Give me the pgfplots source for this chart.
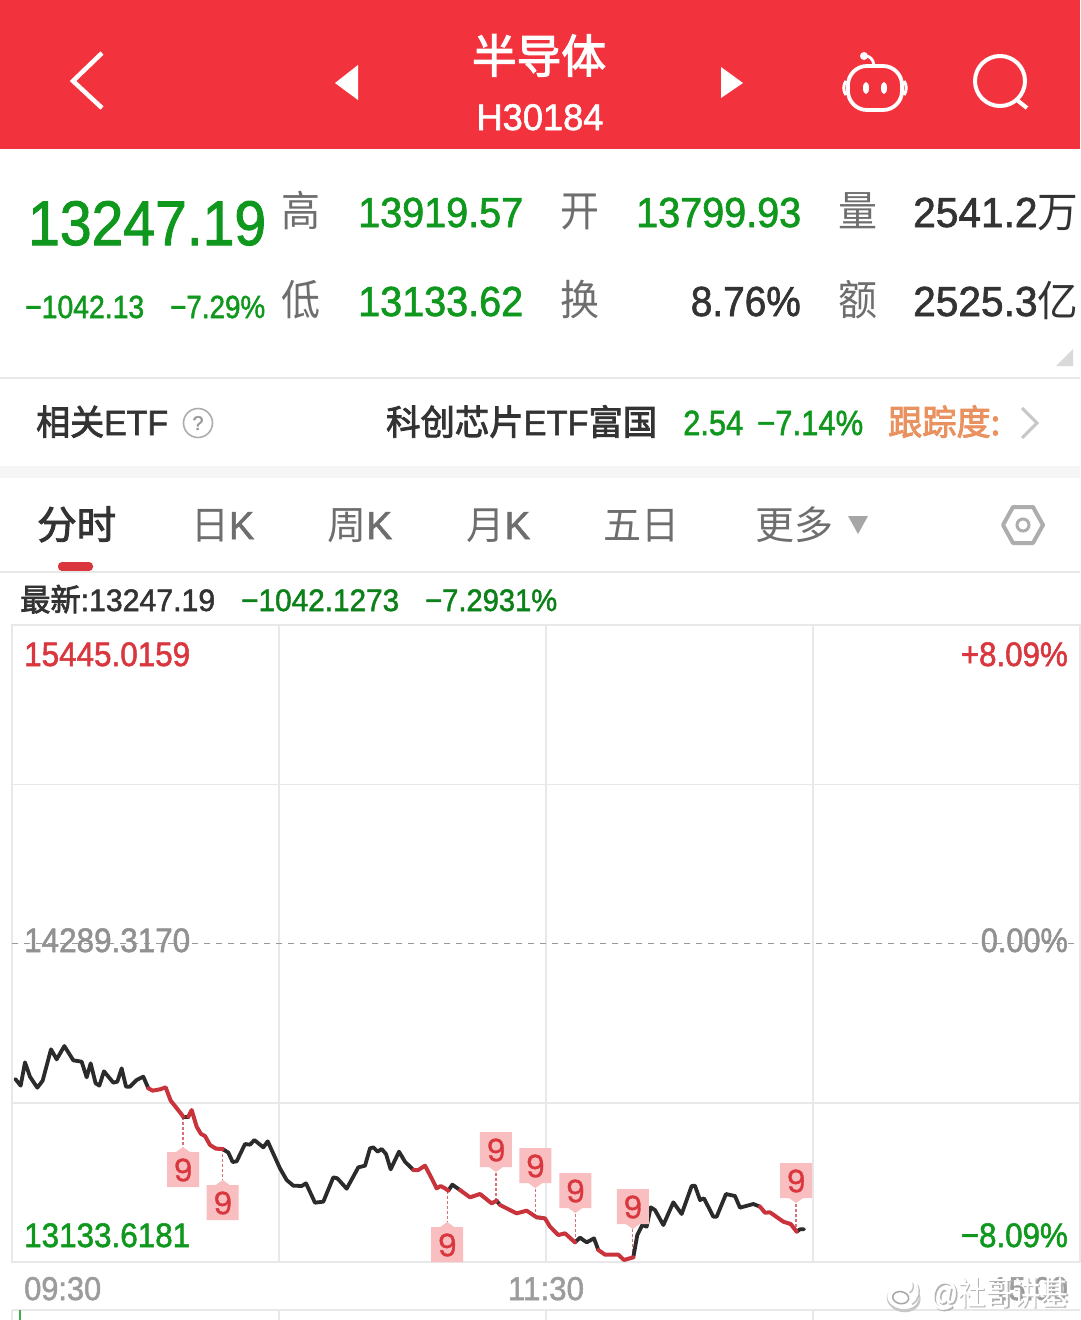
\documentclass[border=0pt]{standalone}
\usepackage{fontspec}
\usepackage{graphicx}
\usepackage{pgfplots}
\pgfplotsset{compat=1.18}
\setmainfont[FakeBold=1.6]{Liberation Sans}
\newfontfamily\cjk{Noto Sans CJK SC}
\newfontfamily\cjkm[FakeBold=2.5]{Noto Sans CJK SC}
\newfontfamily\tagfont[FakeBold=1]{Poppins}
\definecolor{hdr}{HTML}{F2333D}
\definecolor{grn}{HTML}{0F981D}
\definecolor{rd}{HTML}{D9363E}
\definecolor{dk}{HTML}{333333}
\definecolor{gy}{HTML}{6E6E6E}
\definecolor{lg}{HTML}{E8E8E8}
\definecolor{tm}{HTML}{9C9C9C}
\definecolor{org}{HTML}{EA9160}
\definecolor{tagp}{HTML}{F8BEC0}
\definecolor{lineb}{HTML}{2B2B2B}
\definecolor{liner}{HTML}{C9333B}
\newsavebox\mybox
% anchor, x, y, size, width, colour, text
\newcommand\FW[7]{%
 \node[anchor=#1,inner sep=0pt,text=#6] at (#2,#3) {%
   \sbox\mybox{\fontsize{#4}{#4}\selectfont #7}%
   \pgfmathsetmacro\sx{#5/\the\wd\mybox}%
   \scalebox{\sx}[1]{\usebox\mybox}};%
}
\newcommand\C[1]{{\cjk #1}}
\newcommand\M[1]{{\cjkm #1}}
\pgfdeclareplotmark{tagdown}{%
 \pgfsetfillcolor{tagp}%
 \pgfsetcornersarced{\pgfpoint{6pt}{6pt}}%
 \pgfpathmoveto{\pgfpoint{0pt}{0pt}}%
 \pgfpathlineto{\pgfpoint{7pt}{-5pt}}%
 \pgfpathlineto{\pgfpoint{16pt}{-5pt}}%
 \pgfpathlineto{\pgfpoint{16pt}{-40pt}}%
 \pgfpathlineto{\pgfpoint{-16pt}{-40pt}}%
 \pgfpathlineto{\pgfpoint{-16pt}{-5pt}}%
 \pgfpathlineto{\pgfpoint{-7pt}{-5pt}}%
 \pgfpathclose
 \pgfusepathqfill
 \pgftext[at=\pgfpoint{0pt}{-23pt}]{\fontsize{31}{31}\tagfont\color{rd}9}%
}
\pgfdeclareplotmark{tagup}{%
 \pgfsetfillcolor{tagp}%
 \pgfsetcornersarced{\pgfpoint{6pt}{6pt}}%
 \pgfpathmoveto{\pgfpoint{0pt}{0pt}}%
 \pgfpathlineto{\pgfpoint{7pt}{5pt}}%
 \pgfpathlineto{\pgfpoint{16pt}{5pt}}%
 \pgfpathlineto{\pgfpoint{16pt}{40pt}}%
 \pgfpathlineto{\pgfpoint{-16pt}{40pt}}%
 \pgfpathlineto{\pgfpoint{-16pt}{5pt}}%
 \pgfpathlineto{\pgfpoint{-7pt}{5pt}}%
 \pgfpathclose
 \pgfusepathqfill
 \pgftext[at=\pgfpoint{0pt}{22pt}]{\fontsize{31}{31}\tagfont\color{rd}9}%
}
\begin{document}
\begin{tikzpicture}
\useasboundingbox (0,0) rectangle (1080pt,-1320pt);
\fill[white] (0,0) rectangle (1080pt,-1320pt);
\begin{scope}[x=1pt,y=-1pt]
% header
\fill[hdr] (0,0) rectangle (1080,149);
\draw[white,line width=4.5pt,line join=miter] (102,53)--(73,81)--(102,108);
\fill[white] (358,65)--(335,83)--(358,100)--cycle;
\fill[white] (721,67)--(743,83)--(721,98)--cycle;
\FW{base}{539}{73}{46}{134}{white}{\M{半导体}}
\FW{base}{540}{130}{37}{127}{white}{H30184}
% robot
\draw[white,line width=3.8pt,rounded corners=19pt] (848,66) rectangle (902,110);
\draw[white,line width=3pt] (846,81) .. controls (843,85) and (843,91) .. (846,95);
\draw[white,line width=3pt] (904,81) .. controls (907,85) and (907,91) .. (904,95);
\draw[white,line width=2.8pt] (874,65) .. controls (873,59) and (870,56) .. (865,56);
\fill[white] (864,56) circle (4);
\fill[white] (866,88) ellipse [x radius=3,y radius=6];
\fill[white] (884,88) ellipse [x radius=3,y radius=6];
% search
\draw[white,line width=4pt] (1000,81) circle (25);
\draw[white,line width=4pt] (1017,100)--(1027,108);
% quote rows
\FW{base west}{28}{245}{63}{238}{grn}{13247.19}
\FW{base}{301}{226}{42}{39}{gy}{\C{高}}
\FW{base west}{358}{227}{42}{165}{grn}{13919.57}
\FW{base}{580}{226}{42}{39}{gy}{\C{开}}
\FW{base west}{636}{227}{42}{165}{grn}{13799.93}
\FW{base}{858}{226}{42}{39}{gy}{\C{量}}
\FW{base west}{913}{227}{42}{165}{dk}{2541.2\C{万}}
\FW{base west}{25}{318}{32}{119}{grn}{−1042.13}
\FW{base west}{170}{318}{32}{95}{grn}{−7.29\%}
\FW{base}{301}{315}{42}{39}{gy}{\C{低}}
\FW{base west}{358}{316}{42}{165}{grn}{13133.62}
\FW{base}{580}{315}{42}{39}{gy}{\C{换}}
\FW{base east}{801}{316}{42}{110}{dk}{8.76\%}
\FW{base}{858}{315}{42}{39}{gy}{\C{额}}
\FW{base west}{913}{316}{42}{165}{dk}{2525.3\C{亿}}
\fill[black!15] (1056,366)--(1073,366)--(1073,349)--cycle;
\draw[lg,line width=1.2pt] (0,378)--(1080,378);
% ETF row
\FW{base west}{36}{435}{35}{132}{dk}{\M{相关}ETF}
\draw[black!32,line width=1.6pt] (198,423) circle (14.5);
\node[text=black!40,inner sep=0pt] at (198,423) {\fontsize{20}{20}\selectfont ?};
\FW{base west}{386}{435}{35}{271}{dk}{\M{科创芯片}ETF\M{富国}}
\FW{base west}{683}{435}{35}{60}{grn}{2.54}
\FW{base west}{757}{435}{35}{106}{grn}{−7.14\%}
\FW{base west}{888}{435}{35}{112}{org}{\M{跟踪度:}}
\draw[black!22,line width=3pt] (1022,408)--(1037,423)--(1022,438);
\fill[black!4] (0,466) rectangle (1080,478);
% tabs
\FW{base west}{37}{539}{39}{79}{dk}{\M{分时}}
\FW{base west}{191}{539}{39}{63}{gy}{\C{日}K}
\FW{base west}{327}{539}{39}{65}{gy}{\C{周}K}
\FW{base west}{466}{539}{39}{64}{gy}{\C{月}K}
\FW{base west}{603}{539}{39}{76}{gy}{\C{五日}}
\FW{base west}{755}{539}{39}{78}{gy}{\C{更多}}
\fill[black!35] (848,516)--(868,516)--(858,534)--cycle;
\draw[black!32,line width=4pt,line join=round] (1003,525)--(1013,507)--(1033,507)--(1043,525)--(1033,543)--(1013,543)--cycle;
\draw[black!32,line width=3pt] (1023,525) circle (6);
\fill[rd,rounded corners=4pt] (58,562) rectangle (93,571);
\draw[lg,line width=1.2pt] (0,572)--(1080,572);
\FW{base west}{20}{611}{31}{195}{dk}{\M{最新}:13247.19}
\FW{base west}{241}{611}{31}{158}{grn!85!black}{−1042.1273}
\FW{base west}{425}{611}{31}{132}{grn!85!black}{−7.2931\%}
\end{scope}

\begin{axis}[
  at={(12pt,-1262pt)},anchor=south west,
  scale only axis,width=1068pt,height=637pt,
  xmin=0,xmax=240,ymin=13133.6181,ymax=15445.0159,
  xtick={60,120,180},ytick={13710.6,14867.2},
  xticklabels={},yticklabels={},
  scaled y ticks=false,scaled x ticks=false,
  tick style={draw=none},
  grid=major,grid style={lg,line width=1.2pt},
  axis line style={lg,line width=1.2pt},
  clip=false,
]
\addplot[black!40,dash pattern=on 6pt off 6pt,line width=1.5pt] coordinates {(0,14289.317)(240,14289.317)};
% stems
\addplot[liner!70,dash pattern=on 3pt off 2pt,line width=1.2pt] coordinates {(38.43,13659.8)(38.43,13550.9)};
\addplot[liner!70,dash pattern=on 3pt off 2pt,line width=1.2pt] coordinates {(47.35,13543.7)(47.35,13431.2)};
\addplot[liner!70,dash pattern=on 3pt off 2pt,line width=1.2pt] coordinates {(97.8,13392.5)(97.8,13278.8)};
\addplot[liner!70,dash pattern=on 3pt off 2pt,line width=1.2pt] coordinates {(108.76,13356)(108.76,13460.2)};
\addplot[liner!70,dash pattern=on 3pt off 2pt,line width=1.2pt] coordinates {(117.6,13295.7)(117.6,13402.1)};
\addplot[liner!70,dash pattern=on 3pt off 2pt,line width=1.2pt] coordinates {(126.6,13205)(126.6,13311.4)};
\addplot[liner!70,dash pattern=on 3pt off 2pt,line width=1.2pt] coordinates {(139.5,13150.6)(139.5,13253.4)};
\addplot[liner!70,dash pattern=on 3pt off 2pt,line width=1.2pt] coordinates {(176.2,13243.7)(176.2,13347.7)};
% tags
\addplot[only marks,mark=tagdown] coordinates {(38.43,13550.9)(47.35,13431.2)(97.8,13278.8)};
\addplot[only marks,mark=tagup] coordinates {(108.76,13460.2)(117.6,13402.1)(126.6,13311.4)(139.5,13253.4)(176.2,13347.7)};
% price line, black segments
\pgfplotsset{bl/.style={lineb,line width=3.8pt,line join=round,line cap=round},rl/.style={liner,line width=4pt,line join=round,line cap=round}}
\addplot[bl] coordinates {(0.75,13797.7)(1.95,13773.5)(2.92,13858.1)(4.04,13806.1)(5.69,13766.2)(6.89,13791.6)(8.76,13905.3)(10.04,13869.0)(11.76,13917.4)(13.78,13865.4)(15.65,13860.6)(16.78,13803.7)(17.68,13854.5)(18.80,13782.0)(19.63,13773.5)(20.67,13825.5)(22.77,13784.4)(23.67,13788.0)(24.64,13836.4)(25.62,13769.9)(26.52,13769.9)(28.02,13794.1)(29.51,13806.2)(30.64,13763.8)};
\addplot[bl] coordinates {(38.50,13661.0)(39.63,13661.0)};
\addplot[bl] coordinates {(47.34,13543.7)(48.62,13530.4)(49.59,13496.5)(50.49,13499.0)(52.36,13561.8)(53.49,13559.4)(54.46,13576.3)(56.48,13549.7)(57.46,13571.5)(60.22,13473.5)(61.72,13431.2)(63.22,13410.7)(65.09,13409.4)(66.07,13419.1)(68.09,13348.9)(69.96,13352.6)(72.21,13440.9)(73.11,13437.2)(75.21,13399.7)(77.83,13477.2)(79.33,13483.2)(80.45,13546.1)(81.20,13549.7)(82.17,13534.0)(83.07,13543.7)(84.05,13525.5)(85.09,13469.9)(86.97,13534.0)(88.31,13497.7)(90.19,13467.5)};
\addplot[bl] coordinates {(98.05,13392.5)(98.95,13414.3)(100.67,13394.9)};
\addplot[bl] coordinates {(108.91,13356.2)(109.66,13340.5)};
\addplot[bl] coordinates {(117.90,13295.7)(118.65,13294.5)};
\addplot[bl] coordinates {(126.52,13205.0)(127.64,13221.9)(129.14,13205.0)(130.79,13219.5)(131.76,13177.2)};
\addplot[bl] coordinates {(139.62,13150.6)(140.52,13231.6)(141.65,13267.9)(142.62,13261.9)(143.52,13332.0)(144.49,13322.3)(146.37,13267.9)(148.61,13350.2)(150.49,13307.8)(152.73,13409.4)(153.48,13410.6)(154.61,13358.6)(155.50,13364.7)(157.60,13298.1)(158.35,13298.1)(160.45,13380.4)(162.47,13373.1)(163.59,13330.8)(166.59,13344.1)(168.09,13334.4)};
\addplot[bl] coordinates {(176.33,13243.7)(177.08,13252.2)(177.98,13252.2)};
% red segments
\addplot[rl] coordinates {(30.64,13763.8)(31.61,13755.4)(33.26,13760.2)(34.53,13767.4)(35.66,13719.1)(36.63,13699.7)(38.50,13661.0)};
\addplot[rl] coordinates {(39.63,13661.0)(40.37,13685.2)(41.50,13624.7)(42.47,13598.1)(43.37,13590.9)(44.50,13558.2)(45.84,13544.9)(47.34,13543.7)};
\addplot[rl] coordinates {(90.19,13467.5)(91.31,13467.5)(92.81,13483.2)(94.31,13437.2)(95.43,13400.9)(96.33,13409.4)(97.30,13400.9)(98.05,13392.5)};
\addplot[rl] coordinates {(100.67,13394.9)(102.92,13368.3)(105.17,13380.4)(107.79,13346.5)(108.91,13356.2)};
\addplot[rl] coordinates {(109.66,13340.5)(113.41,13310.2)(115.65,13319.9)(117.90,13295.7)};
\addplot[rl] coordinates {(118.65,13294.5)(119.77,13292.1)(120.90,13261.9)(122.77,13231.6)(124.27,13237.7)(126.52,13205.0)};
\addplot[rl] coordinates {(131.76,13177.2)(133.26,13160.3)(136.25,13160.3)(137.53,13140.9)(139.62,13150.6)};
\addplot[rl] coordinates {(168.09,13334.4)(169.21,13312.7)(170.34,13313.9)(173.33,13280.0)(174.98,13271.5)(176.33,13243.7)};
\end{axis}

\begin{scope}[x=1pt,y=-1pt]
\FW{base west}{24}{952}{34}{166}{black!43}{14289.3170}
\FW{base east}{1068}{952}{34}{87}{black!43}{0.00\%}
\FW{base west}{24}{666}{34}{166}{rd}{15445.0159}
\FW{base east}{1068}{666}{34}{107}{rd}{+8.09\%}
\FW{base west}{24}{1247}{34}{166}{grn}{13133.6181}
\FW{base east}{1068}{1247}{34}{107}{grn}{−8.09\%}
\FW{base west}{24}{1300}{33}{77}{tm}{09:30}
\FW{base}{546}{1300}{33}{76}{tm}{11:30}
\FW{base east}{1068}{1300}{33}{76}{tm}{15:00}
% below the axis
\draw[lg,line width=1.2pt] (12,1310)--(1080,1310);
\foreach \xx in {12,279,546,813} {\draw[lg,line width=1.2pt] (\xx,1310)--(\xx,1320);}
\fill[grn!80] (19,1310) rectangle (21,1320);
% watermark
\begin{scope}[rotate around={-10:(903,1296)}]
\fill[black!22] (904,1298) ellipse [x radius=17,y radius=14];
\fill[white] (903,1296) ellipse [x radius=16,y radius=13];
\draw[black!35,line width=1.5pt] (901,1298) ellipse [x radius=8,y radius=6];
\end{scope}
\draw[black!25,line width=2.2pt] (912,1283) arc (-30:60:7);
\draw[white,line width=1.6pt] (911,1282) arc (-30:60:7);
\draw[black!25,line width=2.2pt] (917,1285) arc (-30:60:14);
\draw[white,line width=1.6pt] (916,1284) arc (-30:60:14);
\FW{base west}{931.5}{1306.5}{33}{138}{black!30}{@\C{社哥讲基}}
\FW{base west}{930}{1305}{33}{138}{white}{@\C{社哥讲基}}
\end{scope}
\end{tikzpicture}
\end{document}
